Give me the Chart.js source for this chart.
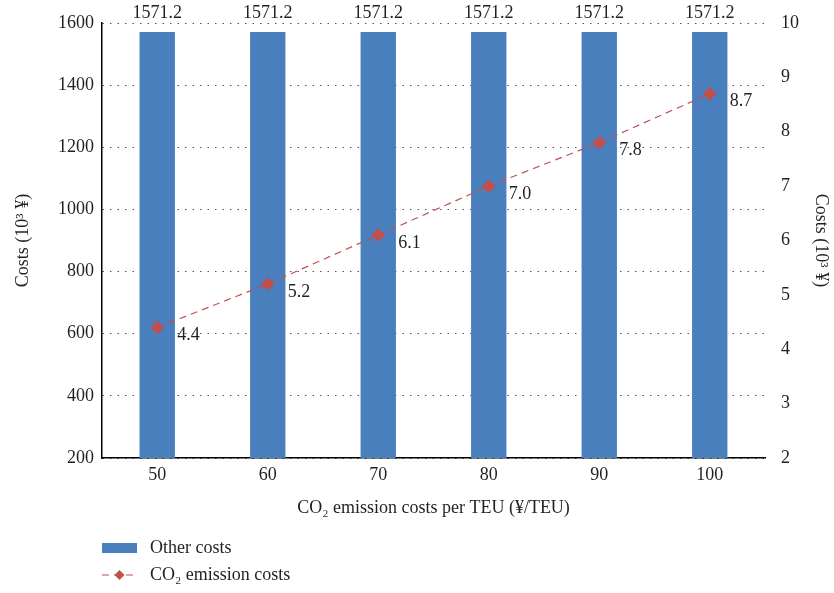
<!DOCTYPE html>
<html>
<head>
<meta charset="utf-8">
<script src="https://cdn.jsdelivr.net/npm/chart.js@4"></script>
<style>
  html, body { margin: 0; padding: 0; background: #fff; }
  #wrap { position: relative; width: 834px; height: 593px; }
</style>
</head>
<body>
<div id="wrap"><canvas id="chart" width="834" height="593"></canvas></div>
<script>
const categories = ['50', '60', '70', '80', '90', '100'];
const otherCosts = [1571.2, 1571.2, 1571.2, 1571.2, 1571.2, 1571.2];
const co2Costs = [4.4, 5.2, 6.1, 7.0, 7.8, 8.7];

const FONT = '"Liberation Serif", "DejaVu Serif", serif';
const BAR = '#4a7fbe';
const LINE = '#c0504d';
const TEXT = '#231f20';

// value labels + bottom legend, drawn on the canvas
const labelsPlugin = {
    id: 'labels',
    afterDatasetsDraw(chart) {
        const ctx = chart.ctx;
        ctx.save();
        ctx.fillStyle = TEXT;
        ctx.font = '18px ' + FONT;
        ctx.textBaseline = 'middle';

        chart.getDatasetMeta(1).data.forEach((bar, i) => {
            ctx.textAlign = 'center';
            ctx.fillText(otherCosts[i].toFixed(1), bar.x, 13);
        });
        chart.getDatasetMeta(0).data.forEach((pt, i) => {
            ctx.textAlign = 'left';
            ctx.fillText(co2Costs[i].toFixed(1), pt.x + 20, pt.y + 8);
        });

        // legend
        const lx = 102, y1 = 548, y2 = 575;
        ctx.fillStyle = BAR;
        ctx.fillRect(lx, y1 - 5, 35, 10);
        ctx.strokeStyle = LINE;
        ctx.lineWidth = 1.2;
        ctx.setLineDash([7, 5]);
        ctx.beginPath();
        ctx.moveTo(lx, y2);
        ctx.lineTo(lx + 35, y2);
        ctx.stroke();
        ctx.setLineDash([]);
        ctx.fillStyle = LINE;
        ctx.beginPath();
        ctx.moveTo(lx + 17.5, y2 - 5);
        ctx.lineTo(lx + 22.5, y2);
        ctx.lineTo(lx + 17.5, y2 + 5);
        ctx.lineTo(lx + 12.5, y2);
        ctx.closePath();
        ctx.fill();
        ctx.fillStyle = TEXT;
        ctx.textAlign = 'left';
        ctx.fillText('Other costs', 150, y1);
        ctx.fillText('CO\u2082 emission costs', 150, y2);
        ctx.restore();
    }
};

const tickFont = { family: FONT, size: 18 };

new Chart(document.getElementById('chart'), {
    data: {
        labels: categories,
        datasets: [
            {
                type: 'line',
                label: 'CO\u2082 emission costs',
                data: co2Costs,
                yAxisID: 'y1',
                borderColor: LINE,
                backgroundColor: LINE,
                borderWidth: 1.2,
                borderDash: [7, 5],
                pointStyle: 'rectRot',
                pointRadius: 6,
                pointHoverRadius: 6,
                order: 0
            },
            {
                type: 'bar',
                label: 'Other costs',
                data: otherCosts,
                yAxisID: 'y',
                backgroundColor: BAR,
                barPercentage: 0.32,
                categoryPercentage: 1,
                order: 1
            }
        ]
    },
    options: {
        responsive: false,
        animation: false,
        layout: { padding: { top: 23, right: 0, left: 0, bottom: 70 } },
        plugins: {
            legend: { display: false },
            tooltip: { enabled: false }
        },
        scales: {
            x: {
                grid: { display: false, drawTicks: false },
                border: { color: '#000', width: 1.5 },
                ticks: { color: TEXT, font: tickFont, padding: 6 },
                title: {
                    display: true,
                    text: 'CO\u2082 emission costs per TEU (\u00a5/TEU)',
                    color: TEXT,
                    font: tickFont,
                    padding: { top: 6, bottom: 4 }
                },
                afterFit(scale) { scale.height = 65; }
            },
            y: {
                position: 'left',
                min: 200,
                max: 1600,
                ticks: {
                    stepSize: 200, color: TEXT, font: tickFont, padding: 8,
                    callback: v => String(v)
                },
                grid: { color: '#555', lineWidth: 1, drawTicks: false },
                border: { color: '#000', width: 1.5, dash: [1.5, 6] },
                title: {
                    display: true,
                    text: 'Costs (10\u00b3 \u00a5)',
                    color: TEXT,
                    font: tickFont,
                    padding: { top: 12, bottom: 4 }
                },
                afterFit(scale) { scale.width = 102; }
            },
            y1: {
                position: 'right',
                min: 2,
                max: 10,
                ticks: { stepSize: 1, color: TEXT, font: tickFont, padding: 8 },
                grid: { display: false },
                border: { display: false },
                title: {
                    display: true,
                    text: 'Costs (10\u00b3 \u00a5)',
                    color: TEXT,
                    font: tickFont,
                    padding: { top: 2, bottom: 4 }
                },
                afterFit(scale) { scale.width = 69; }
            }
        }
    },
    plugins: [labelsPlugin]
});
</script>
</body>
</html>
